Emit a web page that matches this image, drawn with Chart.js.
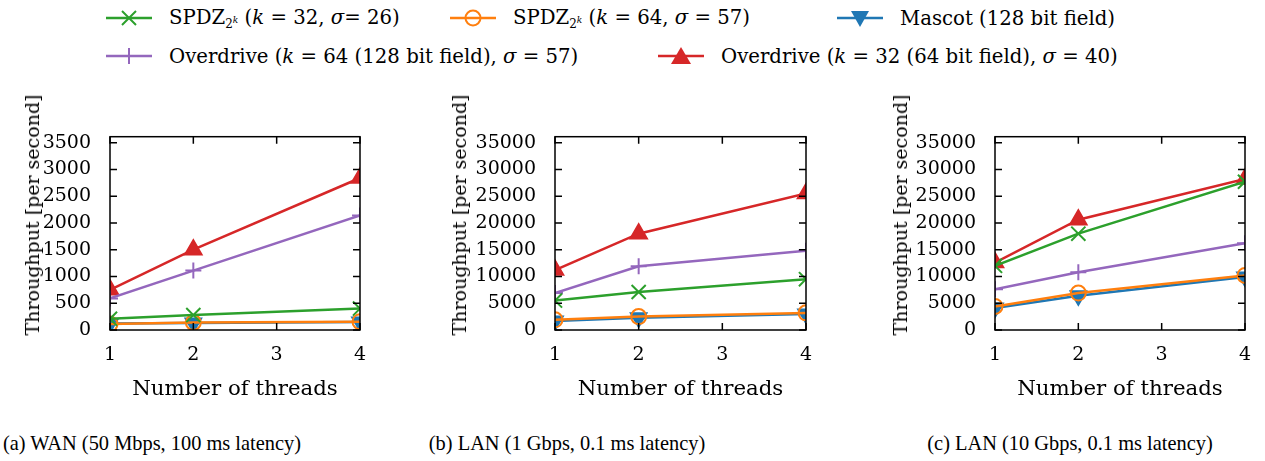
<!DOCTYPE html>
<html>
<head>
<meta charset="utf-8">
<script src="https://cdn.jsdelivr.net/npm/chart.js@4.4.1/dist/chart.umd.min.js"></script>
<style>
  body{margin:0;background:#fff;width:1265px;height:461px;position:relative;overflow:hidden;font-family:"DejaVu Serif",serif;color:#000}
  canvas{position:absolute;top:100px}
  .leg{position:absolute;height:24px;display:flex;align-items:center;white-space:nowrap;font-size:19.7px}
  .leg svg{margin-right:17px;flex:none}
  .leg sub{font-size:12px;vertical-align:-4px}
  .leg sub sup{font-size:9px;font-style:italic;vertical-align:5px}
  .ytitle{position:absolute;top:215px;transform:translate(-50%,-50%) rotate(-90deg);white-space:nowrap;font-size:19px}
  .cap{position:absolute;top:432px;transform:translateX(-50%);white-space:nowrap;font-family:"Liberation Serif",serif;font-size:20.4px}
</style>
</head>
<body>

<div class="leg" style="left:106px;top:6px">
  <svg width="46" height="24"><line x1="0" y1="12" x2="46" y2="12" stroke="#2ca02c" stroke-width="2.5"/><path d="M16 5L30 19M30 5L16 19" stroke="#2ca02c" stroke-width="2" fill="none"/></svg>
  <span>SPDZ<sub>2<sup>k</sup></sub> (<i>k</i> = 32, <i>σ</i>= 26)</span>
</div>
<div class="leg" style="left:450px;top:6px">
  <svg width="46" height="24"><line x1="0" y1="12" x2="46" y2="12" stroke="#ff7f0e" stroke-width="2.5"/><circle cx="23" cy="12" r="7.5" stroke="#ff7f0e" stroke-width="2" fill="none"/></svg>
  <span>SPDZ<sub>2<sup>k</sup></sub> (<i>k</i> = 64, <i>σ</i> = 57)</span>
</div>
<div class="leg" style="left:837px;top:6px">
  <svg width="46" height="24"><line x1="0" y1="12" x2="46" y2="12" stroke="#1f77b4" stroke-width="2.5"/><polygon points="14,5 32,5 23,21" fill="#1f77b4"/></svg>
  <span>Mascot (128 bit field)</span>
</div>
<div class="leg" style="left:106px;top:44px">
  <svg width="46" height="24"><line x1="0" y1="12" x2="46" y2="12" stroke="#9467bd" stroke-width="2.5"/><line x1="23" y1="4" x2="23" y2="20" stroke="#9467bd" stroke-width="2"/></svg>
  <span>Overdrive (<i>k</i> = 64 (128 bit field), <i>σ</i> = 57)</span>
</div>
<div class="leg" style="left:658px;top:44px">
  <svg width="46" height="24"><line x1="0" y1="12" x2="46" y2="12" stroke="#d62728" stroke-width="2.5"/><polygon points="13,20 33,20 23,3" fill="#d62728"/></svg>
  <span>Overdrive (<i>k</i> = 32 (64 bit field), <i>σ</i> = 40)</span>
</div>

<canvas id="wan" width="400" height="320" style="left:0px"></canvas>
<canvas id="lan1" width="400" height="320" style="left:440px"></canvas>
<canvas id="lan10" width="385" height="320" style="left:880px"></canvas>

<div class="ytitle" style="left:32px">Throughput [per second]</div>
<div class="ytitle" style="left:459px">Throughput [per second]</div>
<div class="ytitle" style="left:900px">Throughput [per second]</div>

<div class="cap" style="left:152px">(a) WAN (50 Mbps, 100 ms latency)</div>
<div class="cap" style="left:567px">(b) LAN (1 Gbps, 0.1 ms latency)</div>
<div class="cap" style="left:1070px">(c) LAN (10 Gbps, 0.1 ms latency)</div>

<script>
// x values and axis ticks
const threads = [1, 2, 4];
const xTickValues = [1, 2, 3, 4];
const yTicksWan = [0, 500, 1000, 1500, 2000, 2500, 3000, 3500];
const yTicksLan = [0, 5000, 10000, 15000, 20000, 25000, 30000, 35000];

// (a) WAN
const wanSpdz32 = [210, 280, 400];
const wanSpdz64 = [110, 140, 155];
const wanMascot = [120, 130, 150];
const wanOverdrive64 = [590, 1110, 2140];
const wanOverdrive32 = [750, 1500, 2840];

// (b) LAN 1 Gbps
const lan1Spdz32 = [5500, 7100, 9500];
const lan1Spdz64 = [1900, 2500, 3200];
const lan1Mascot = [1700, 2300, 3000];
const lan1Overdrive64 = [6900, 11900, 14800];
const lan1Overdrive32 = [11200, 18000, 25500];

// (c) LAN 10 Gbps
const lan10Spdz32 = [12000, 18000, 27700];
const lan10Spdz64 = [4400, 6900, 10200];
const lan10Mascot = [4100, 6400, 9900];
const lan10Overdrive64 = [7600, 10800, 16200];
const lan10Overdrive32 = [12600, 20600, 28200];

// first dataset ends up on top in Chart.js, so green goes first
const seriesStyles = [
  {color:'#2ca02c', pointStyle:'crossRot', radius:10, rotation:0, fill:'#2ca02c'},
  {color:'#ff7f0e', pointStyle:'circle', radius:7.5, rotation:0, fill:'rgba(0,0,0,0)'},
  {color:'#1f77b4', pointStyle:'triangle', radius:9, rotation:180, fill:'#1f77b4'},
  {color:'#9467bd', pointStyle:'cross', radius:8, rotation:0, fill:'#9467bd'},
  {color:'#d62728', pointStyle:'triangle', radius:9.5, rotation:0, fill:'#d62728'}
];

const tickFont = {family:'DejaVu Serif', size:19};
const titleFont = {family:'DejaVu Serif', size:21.3};

// box round the plot area with inward ticks on all four sides
const boxPlugin = {
  id:'box',
  afterDatasetsDraw(chart){
    const {ctx, chartArea:a, scales:{x, y}} = chart;
    const tl = 7;
    ctx.save();
    ctx.strokeStyle = '#000';
    ctx.lineWidth = 1.5;
    ctx.strokeRect(a.left, a.top, a.right - a.left, a.bottom - a.top);
    ctx.beginPath();
    y.ticks.forEach(t => {
      const py = y.getPixelForValue(t.value);
      ctx.moveTo(a.left, py); ctx.lineTo(a.left + tl, py);
      ctx.moveTo(a.right, py); ctx.lineTo(a.right - tl, py);
    });
    x.ticks.forEach(t => {
      const px = x.getPixelForValue(t.value);
      ctx.moveTo(px, a.bottom); ctx.lineTo(px, a.bottom - tl);
      ctx.moveTo(px, a.top); ctx.lineTo(px, a.top + tl);
    });
    ctx.stroke();
    ctx.restore();
  }
};

function makeChart(id, yWidth, padRight, yMax, yTicks, series){
  return new Chart(document.getElementById(id), {
    type:'line',
    data:{
      datasets: series.map((vals, i) => {
        const s = seriesStyles[i];
        return {
          data: threads.map((t, j) => ({x:t, y:vals[j]})),
          borderColor: s.color,
          borderWidth: 2.5,
          pointStyle: s.pointStyle,
          pointRadius: s.radius,
          pointRotation: s.rotation,
          pointBorderColor: s.color,
          pointBackgroundColor: s.fill,
          pointBorderWidth: 2,
          tension: 0,
          clip: 0
        };
      })
    },
    options:{
      responsive:false,
      animation:false,
      layout:{padding:{top:36.7, right:padRight, bottom:0, left:0}},
      plugins:{legend:{display:false}, tooltip:{enabled:false}},
      scales:{
        x:{
          type:'linear', min:1, max:4,
          afterBuildTicks: s => { s.ticks = xTickValues.map(v => ({value:v})); },
          afterFit: s => { s.height = 90; },
          grid:{display:false}, border:{display:false},
          ticks:{font:tickFont, color:'#000', padding:6, callback: v => String(v)},
          title:{display:true, text:'Number of threads', font:titleFont, color:'#000', padding:{top:0, bottom:18}}
        },
        y:{
          min:0, max:yMax,
          afterBuildTicks: s => { s.ticks = yTicks.map(v => ({value:v})); },
          afterFit: s => { s.width = yWidth; },
          grid:{display:false}, border:{display:false},
          ticks:{font:tickFont, color:'#000', padding:11, callback: v => String(v)}
        }
      }
    },
    plugins:[boxPlugin]
  });
}

makeChart('wan', 110, 40, 3612, yTicksWan,
  [wanSpdz32, wanSpdz64, wanMascot, wanOverdrive64, wanOverdrive32]);
makeChart('lan1', 115, 34, 36120, yTicksLan,
  [lan1Spdz32, lan1Spdz64, lan1Mascot, lan1Overdrive64, lan1Overdrive32]);
makeChart('lan10', 115, 20, 36120, yTicksLan,
  [lan10Spdz32, lan10Spdz64, lan10Mascot, lan10Overdrive64, lan10Overdrive32]);
</script>
</body>
</html>
